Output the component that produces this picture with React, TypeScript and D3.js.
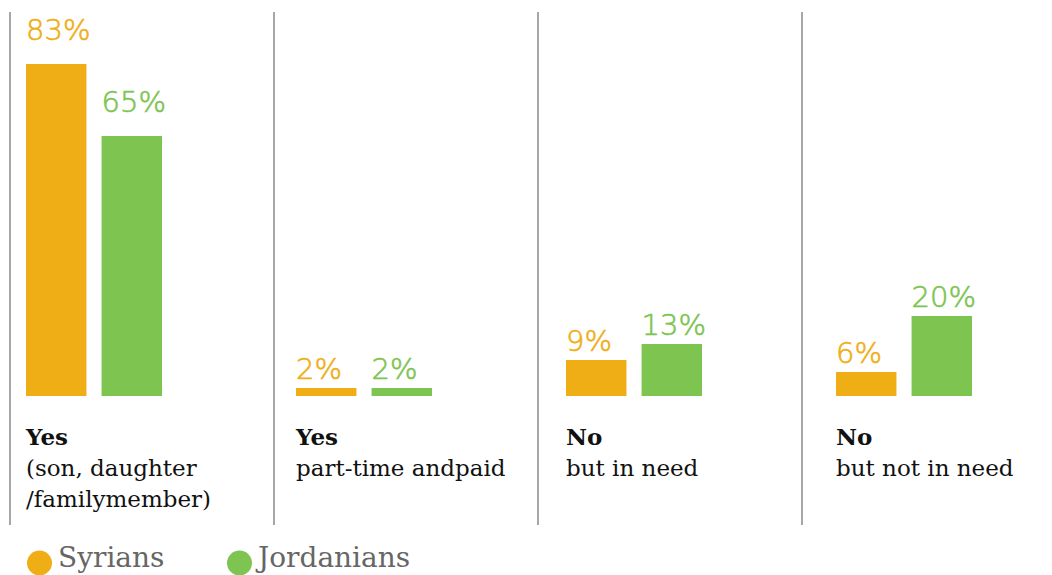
import React from "react";
import * as d3 from "d3";

const categories = ["Yes|(son, daughter|/familymember)", "Yes|part-time andpaid", "No|but in need", "No|but not in need"];
const seriesNames = ["Syrians", "Jordanians"];
const syrians = [83, 2, 9, 6];
const jordanians = [65, 2, 13, 20];
const colors = ["#F0AE16", "#7DC451"];

const W = 1052;
const H = 575;

export default function App() {
  const x = d3.scaleBand<string>().domain(categories).range([26, 26 + 270 * 4]).paddingInner(0).paddingOuter(0);
  const x1 = d3.scaleBand<string>().domain(seriesNames).range([0, 136]).paddingInner(0.2);
  const y = d3.scaleLinear().domain([0, 100]).range([396, -4]);
  const divX = d3.scaleLinear().domain([0, 4]).range([10, 10 + 264 * 4]);
  const values = [syrians, jordanians];

  return (
    <svg width={W} height={H} style={{ position: "absolute", left: 0, top: 0, background: "#fff" }}>
      {categories.map((c, i) => (
        <line key={"d" + i} x1={divX(i)} x2={divX(i)} y1={12} y2={525} stroke="#8a8a8a" strokeWidth={1.5} />
      ))}
      {categories.map((c, i) => (
        <g key={c}>
          {seriesNames.map((s, j) => {
            const v = values[j][i];
            const bx = (x(c) as number) + (x1(s) as number);
            const off = v > 50 ? 24 : 9;
            return (
              <g key={s}>
                <rect x={bx} y={y(v)} width={x1.bandwidth()} height={y(0) - y(v)} fill={colors[j]} />
                <text
                  x={bx}
                  y={y(v) - off}
                  fill={colors[j]}
                  stroke={colors[j]}
                  strokeWidth={0.6}
                  fontFamily="'DejaVu Sans', sans-serif"
                  fontWeight={200}
                  fontSize={29}
                >
                  {v}%
                </text>
              </g>
            );
          })}
          {c.split("|").map((line, k) => (
            <text
              key={k}
              x={x(c) as number}
              y={445 + k * 31}
              fill="#111"
              fontFamily="'DejaVu Serif', serif"
              fontWeight={k === 0 ? 700 : 400}
              fontSize={23}
            >
              {line}
            </text>
          ))}
        </g>
      ))}
      {seriesNames.map((s, j) => (
        <g key={"l" + s}>
          <circle cx={39.5 + j * 200} cy={563} r={12.5} fill={colors[j]} />
          <text x={58 + j * 200} y={567} fill="#666" fontFamily="'DejaVu Serif', serif" fontWeight={300} fontSize={28}>
            {s}
          </text>
        </g>
      ))}
    </svg>
  );
}
